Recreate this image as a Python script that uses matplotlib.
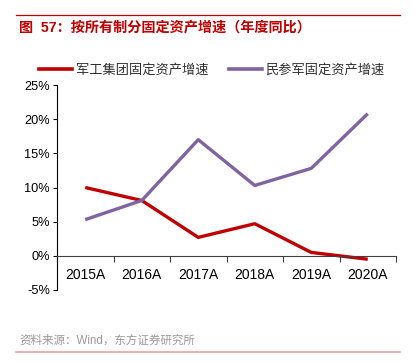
import matplotlib
matplotlib.use("Agg")
import matplotlib.pyplot as plt
from matplotlib.lines import Line2D

plt.rcParams['font.family'] = ['Liberation Sans', 'Noto Sans CJK SC', 'DejaVu Sans']

categories = ['2015A', '2016A', '2017A', '2018A', '2019A', '2020A']
military = [10.0, 8.1, 2.7, 4.7, 0.5, -0.5]
civil = [5.3, 8.1, 17.0, 10.3, 12.8, 20.8]
yticks = [-5, 0, 5, 10, 15, 20, 25]
ytick_labels = ['-5%', '0%', '5%', '10%', '15%', '20%', '25%']
series_names = ['军工集团固定资产增速', '民参军固定资产增速']
title = '图  57：按所有制分固定资产增速（年度同比）'
source = '资料来源：Wind，东方证券研究所'

red = '#C00000'
purple = '#8064A2'

fig = plt.figure(figsize=(4.16, 3.63), dpi=100)
ax = fig.add_axes([57/416, 1-290/363, (396-57)/416, (290-85)/363])

x = list(range(len(categories)))
ax.plot(x, military, color=red, lw=2.4, solid_capstyle='butt', label=series_names[0])
ax.plot(x, civil, color=purple, lw=2.4, solid_capstyle='butt', label=series_names[1])

ax.set_xlim(-0.5, len(categories) - 0.5)
ax.set_ylim(-5, 25)
ax.set_yticks(yticks)
ax.set_yticklabels(ytick_labels, fontsize=9.2)
ax.set_xticks(x)
ax.set_xticklabels(categories, fontsize=9.2)
ax.set_xticks([i - 0.5 for i in range(len(categories) + 1)], minor=True)
ax.tick_params(axis='x', which='major', length=0, pad=9)
ax.tick_params(axis='x', which='minor', length=4, direction='out', width=0.8, color='#404040')
ax.tick_params(axis='y', length=3, direction='out', width=0.8, pad=2)

for s in ['top', 'right']:
    ax.spines[s].set_visible(False)
ax.spines['bottom'].set_position(('data', 0))
ax.spines['bottom'].set_color('#404040')
ax.spines['left'].set_color('black')
ax.spines['left'].set_linewidth(0.8)

handles = [Line2D([], [], color=red, lw=2.6), Line2D([], [], color=purple, lw=2.6)]
fig.legend(handles, series_names, loc='center', bbox_to_anchor=(212/416, 1-70/363),
           ncol=2, frameon=False, fontsize=9.5, handlelength=2.5, handletextpad=0.3,
           columnspacing=1.5, labelcolor='#303030')

fig.add_artist(Line2D([16/416, 400/416], [1-15/363, 1-15/363], color=red, lw=0.9))
fig.text(19/416, 1-28/363, title, color=red, fontsize=10.2, fontweight='bold', va='center', ha='left')
fig.text(19/416, 1-341/363, source, color='#9A9A9A', fontsize=8.3, va='center', ha='left')
fig.add_artist(Line2D([16/416, 400/416], [1-352/363, 1-352/363], color='#F2A7A7', lw=1.3))

fig.savefig('out.png', dpi=100)
